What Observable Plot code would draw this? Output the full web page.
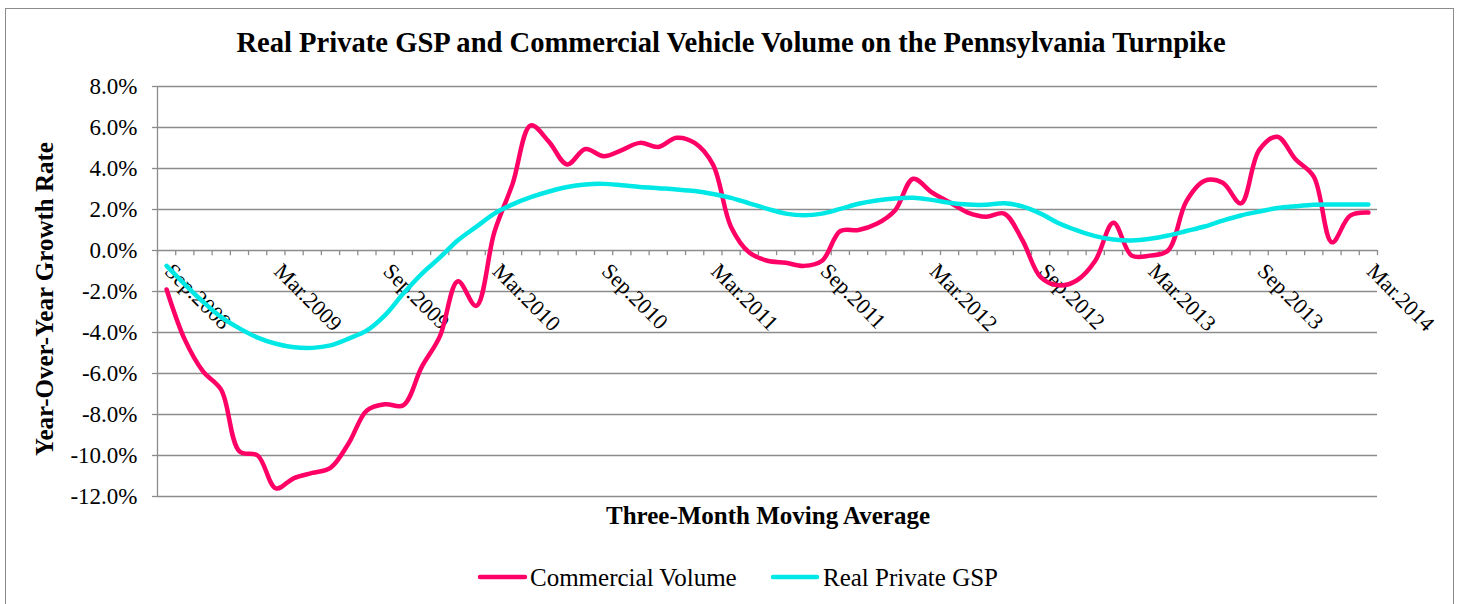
<!DOCTYPE html>
<html><head><meta charset="utf-8">
<script src="https://cdn.jsdelivr.net/npm/d3@7"></script>
<script src="https://cdn.jsdelivr.net/npm/@observablehq/plot@0.6"></script>
<style>
html,body{margin:0;padding:0;background:#fff;overflow:hidden}
#wrap{position:relative;width:1459px;height:604px;overflow:hidden;background:#fff}
#border{position:absolute;left:5px;top:8px;width:1449px;height:700px;border:1px solid #8c8c8c;box-sizing:border-box}
#wrap svg{position:absolute;left:0;top:0}
</style></head><body><div id="wrap"><div id="border"></div></div>
<script>
const titleText = "Real Private GSP and Commercial Vehicle Volume on the Pennsylvania Turnpike";
const yTitle = "Year-Over-Year Growth Rate";
const xTitle = "Three-Month Moving Average";
const seriesNames = ["Commercial Volume", "Real Private GSP"];
const seriesColors = ["#FF0066", "#00E8E6"];

const months = [
  "Sep.2008","Oct.2008","Nov.2008","Dec.2008",
  "Jan.2009","Feb.2009","Mar.2009","Apr.2009","May.2009","Jun.2009","Jul.2009","Aug.2009","Sep.2009","Oct.2009","Nov.2009","Dec.2009",
  "Jan.2010","Feb.2010","Mar.2010","Apr.2010","May.2010","Jun.2010","Jul.2010","Aug.2010","Sep.2010","Oct.2010","Nov.2010","Dec.2010",
  "Jan.2011","Feb.2011","Mar.2011","Apr.2011","May.2011","Jun.2011","Jul.2011","Aug.2011","Sep.2011","Oct.2011","Nov.2011","Dec.2011",
  "Jan.2012","Feb.2012","Mar.2012","Apr.2012","May.2012","Jun.2012","Jul.2012","Aug.2012","Sep.2012","Oct.2012","Nov.2012","Dec.2012",
  "Jan.2013","Feb.2013","Mar.2013","Apr.2013","May.2013","Jun.2013","Jul.2013","Aug.2013","Sep.2013","Oct.2013","Nov.2013","Dec.2013",
  "Jan.2014","Feb.2014","Mar.2014"
];
const tickLabels = ["Sep.2008","Mar.2009","Sep.2009","Mar.2010","Sep.2010","Mar.2011","Sep.2011","Mar.2012","Sep.2012","Mar.2013","Sep.2013","Mar.2014"];
const yTicks = [-12, -10, -8, -6, -4, -2, 0, 2, 4, 6, 8];

// Commercial Volume, YoY growth (%)
const commercialVolume = [
  -1.9, -4.35, -5.9, -6.8, -9.8, -10.0, -11.6, -11.1, -10.85, -10.6,
  -9.4, -7.8, -7.5, -7.55, -5.7, -4.2, -1.5, -2.7, 0.9, 3.25,
  6.1, 5.3, 4.2, 4.95, 4.6, 4.9, 5.25, 5.05, 5.5, 5.25,
  4.2, 1.15, -0.1, -0.5, -0.6, -0.75, -0.5, 0.95, 1.0, 1.3,
  1.95, 3.5, 2.85, 2.35, 1.85, 1.65, 1.8, 0.5, -1.3, -1.7,
  -1.45, -0.5, 1.35, -0.25, -0.25, 0.0, 2.4, 3.4, 3.3, 2.3,
  4.9, 5.55, 4.45, 3.6, 0.4, 1.7, 1.85
];
// Real Private GSP, YoY growth (%)
const realPrivateGSP = [
  -0.75, -1.65, -2.5, -3.25, -3.8, -4.25, -4.55, -4.72, -4.75, -4.63,
  -4.3, -3.9, -3.15, -2.1, -1.15, -0.35, 0.5, 1.15, 1.8, 2.25,
  2.6, 2.88, 3.1, 3.22, 3.25, 3.18, 3.1, 3.04, 2.98, 2.9,
  2.76, 2.57, 2.3, 2.03, 1.8, 1.72, 1.8, 2.03, 2.28, 2.44,
  2.54, 2.57, 2.47, 2.33, 2.24, 2.23, 2.3, 2.15, 1.8, 1.33,
  0.98, 0.7, 0.54, 0.49, 0.57, 0.73, 0.95, 1.17, 1.46, 1.71,
  1.9, 2.07, 2.16, 2.23, 2.24, 2.24, 2.24
];

const n = months.length;
const boundaries = months.map((m, i) => i - 0.5).concat([n - 0.5]);
const grid = "#8c8c8c";

const chart = Plot.plot({
  width: 1459, height: 604,
  marginLeft: 157, marginRight: 82, marginTop: 86, marginBottom: 108,
  x: {type: "linear", domain: [-0.5, n - 0.5], axis: null},
  y: {domain: [-12, 8], axis: null},
  style: {fontFamily: "'Liberation Serif', serif", background: "transparent", color: "black"},
  marks: [
    Plot.ruleY(yTicks, {y: d => d, x1: -0.5, x2: n - 0.5, stroke: grid, strokeWidth: 1.3}),
    Plot.axisY({ticks: yTicks, tickFormat: d => d.toFixed(1) + "%", tickSize: 5, tickPadding: 15,
      stroke: grid, strokeWidth: 1.3, fill: "black", fontSize: 23, label: null}),
    Plot.ruleX([-0.5], {y1: -12, y2: 8, stroke: grid, strokeWidth: 1.3}),
    Plot.ruleX(boundaries, {x: d => d, y1: () => 0, y2: () => -0.25, stroke: grid, strokeWidth: 1.3}),
    Plot.text(tickLabels, {x: d => months.indexOf(d), y: () => 0, text: d => d, rotate: 45,
      textAnchor: "start", lineAnchor: "bottom", dx: -3, dy: 22, fontSize: 22, fill: "black"}),
    Plot.line(commercialVolume, {x: (d, i) => i, y: d => d, stroke: seriesColors[0], strokeWidth: 4.5, curve: "catmull-rom"}),
    Plot.line(realPrivateGSP, {x: (d, i) => i, y: d => d, stroke: seriesColors[1], strokeWidth: 4.5, curve: "catmull-rom"})
  ]
});

const svg = d3.select(chart);
const ff = "'Liberation Serif', serif";
svg.append("text").attr("x", 731).attr("y", 52).attr("text-anchor", "middle")
  .attr("font-family", ff).attr("font-weight", "bold").attr("font-size", 28.6).text(titleText);
svg.append("text").attr("transform", "translate(53,299) rotate(-90)").attr("text-anchor", "middle")
  .attr("font-family", ff).attr("font-weight", "bold").attr("font-size", 25).text(yTitle);
svg.append("text").attr("x", 768).attr("y", 524).attr("text-anchor", "middle")
  .attr("font-family", ff).attr("font-weight", "bold").attr("font-size", 25).text(xTitle);

const legendItems = [
  {x1: 480, x2: 525, tx: 530},
  {x1: 773, x2: 817, tx: 823}
];
legendItems.forEach((L, k) => {
  svg.append("line").attr("x1", L.x1).attr("x2", L.x2).attr("y1", 577).attr("y2", 577)
    .attr("stroke", seriesColors[k]).attr("stroke-width", 4.5).attr("stroke-linecap", "round");
  svg.append("text").attr("x", L.tx).attr("y", 586).attr("text-anchor", "start")
    .attr("font-family", ff).attr("font-size", 25).attr("fill", "black").text(seriesNames[k]);
});

document.getElementById("wrap").appendChild(chart);
</script>
</body></html>
